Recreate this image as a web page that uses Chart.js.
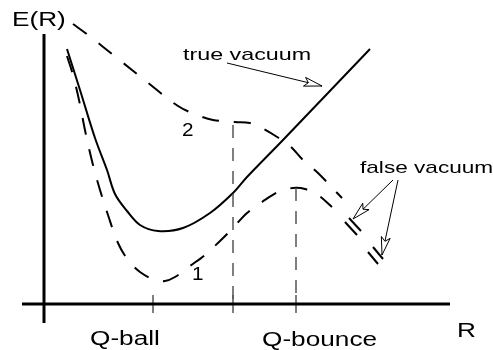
<!DOCTYPE html>
<html><head><meta charset="utf-8">
<script src="https://cdn.jsdelivr.net/npm/chart.js@4"></script>
<style>html,body{margin:0;padding:0;background:#fff}#wrap{width:493px;height:350px;position:relative}</style>
</head><body><div id="wrap"><canvas id="c"></canvas></div>
<script>
// ---- data (R, E in arbitrary units) ----
const solidR = [0.575,0.9,1.275,1.575,1.775,2.075,2.4,2.85,3.475,4.15,4.725,5.075,5.975,8.15];
const solidE = [6.375,5.35,4.15,3.35,2.75,2.325,1.975,1.825,1.9,2.275,2.775,3.175,4.1,6.375];

const curve1R = [0.575,0.725,0.875,1.05,1.225,1.4,1.6,1.85,2.1,2.4,2.775,3.025,3.275,3.65,4.025,4.4,4.7,5.075,5.45,5.9,6.225,6.525,6.85,7.2];
const curve1E = [6.2,5.725,5.1,4.225,3.475,2.85,2.225,1.525,1.1,0.8,0.6,0.575,0.675,0.95,1.225,1.575,1.875,2.275,2.55,2.825,2.9,2.875,2.725,2.425];

const curve2R = [0.725,1.1,1.825,2.575,3.35,3.825,4.225,4.775,5.15,5.45,5.75,6.15,6.475,6.825,7.45];
const curve2E = [7.0,6.725,6.15,5.55,4.95,4.725,4.6,4.55,4.525,4.4,4.225,3.95,3.6,3.3,2.65];

const tickR = [2.725, 4.725, 6.3];
const guideR = [4.725, 6.3];
const guideTopE = [4.475, 2.9];
const axisRRange = [-0.55, 10.15];
const axisERange = [-0.475, 6.75];
const tickHalf = 0.225;

// break marks at curve ends: [R1,E1,R2,E2]
const breakMarks = [
  [7.525,2.05,7.825,1.725],[7.625,2.15,7.925,1.825],
  [8.1,1.3,8.35,1.0],[8.225,1.425,8.475,1.125]
];
// arrows: [fromR, fromE, tipR, tipE]
const arrows = [
  [4.575,6.025,6.95,5.45],
  [8.725,3.1,7.725,2.125],
  [8.85,3.1,8.45,1.225]
];
const labelTexts = ['E(R)','R','Q-ball','Q-bounce','true vacuum','false vacuum','1','2'];
const labelR = [-0.8,10.325,1.15,5.45,3.475,7.9,3.7,3.45];
const labelE = [6.95,-0.825,-1.025,-1.05,6.1,3.275,0.6,4.2];
const labelSize = [20,20,20,20,17,17,18,18];
const labelStretch = [1.31,1.31,1.31,1.31,1.37,1.33,1.15,1.15];

// ---- build ----
const toPts = (xs, ys) => xs.map((x,i)=>({x:x, y:ys[i]}));
const datasets = [];
function addLine(pts, opts){
  datasets.push(Object.assign({data:pts, borderColor:'#000', borderWidth:2, pointRadius:0,
    pointHoverRadius:0, fill:false, clip:false, tension:0}, opts));
}
addLine([{x:axisRRange[0],y:0},{x:axisRRange[1],y:0}], {borderWidth:3});
addLine([{x:0,y:axisERange[0]},{x:0,y:axisERange[1]}], {borderWidth:3});
tickR.forEach(r => addLine([{x:r,y:tickHalf},{x:r,y:-tickHalf}], {borderColor:'#555', borderWidth:1.5}));
guideR.forEach((r,i) => addLine([{x:r,y:guideTopE[i]},{x:r,y:0}], {borderColor:'#555', borderWidth:1.5, borderDash:[13,10]}));
addLine(toPts(solidR, solidE), {tension:0.35, borderWidth:2});
addLine(toPts(curve1R, curve1E), {tension:0.35, borderWidth:2, borderDash:[17,15]});
addLine(toPts(curve2R, curve2E), {tension:0.35, borderWidth:2, borderDash:[17,15]});
breakMarks.forEach(b => addLine([{x:b[0],y:b[1]},{x:b[2],y:b[3]}], {borderWidth:2}));

function drawArrow(ctx, x1, y1, x2, y2){
  const dx = x2-x1, dy = y2-y1, len = Math.hypot(dx,dy);
  const ux = dx/len, uy = dy/len, px = -uy, py = ux;
  const L = 18, W = 4.5;
  const bx = x2 - ux*L, by = y2 - uy*L;
  ctx.beginPath(); ctx.moveTo(x1,y1); ctx.lineTo(x2,y2);
  ctx.lineWidth = 1; ctx.strokeStyle = '#000'; ctx.stroke();
  ctx.beginPath();
  ctx.moveTo(x2,y2);
  ctx.lineTo(bx+px*W, by+py*W);
  ctx.lineTo(bx+ux*4, by+uy*4);
  ctx.lineTo(bx-px*W, by-py*W);
  ctx.closePath();
  ctx.fillStyle = '#fff'; ctx.fill(); ctx.stroke();
}

const annot = {
  id:'annot',
  afterDatasetsDraw(chart){
    const ctx = chart.ctx, xs = chart.scales.x, ys = chart.scales.y;
    const X = v => xs.getPixelForValue(v), Y = v => ys.getPixelForValue(v);
    ctx.save();
    arrows.forEach(a => drawArrow(ctx, X(a[0]), Y(a[1]), X(a[2]), Y(a[3])));
    labelTexts.forEach((t,i) => {
      ctx.save();
      ctx.font = labelSize[i] + 'px "Liberation Sans", Arial, sans-serif';
      ctx.fillStyle = '#000';
      ctx.textBaseline = 'alphabetic';
      ctx.textAlign = 'left';
      ctx.translate(X(labelR[i]), Y(labelE[i]));
      ctx.scale(labelStretch[i], 1);
      ctx.fillText(t, 0, 0);
      ctx.restore();
    });
    ctx.restore();
  }
};

new Chart(document.getElementById('c'), {
  type:'line',
  data:{datasets:datasets},
  options:{
    responsive:true, maintainAspectRatio:false, animation:false, devicePixelRatio:1,
    layout:{padding:{left:44, right:49, top:24, bottom:46}},
    plugins:{legend:{display:false}, tooltip:{enabled:false}},
    events:[],
    scales:{
      x:{type:'linear', min:0, max:10, display:false},
      y:{type:'linear', min:0, max:7, display:false}
    }
  },
  plugins:[annot]
});
</script></body></html>
